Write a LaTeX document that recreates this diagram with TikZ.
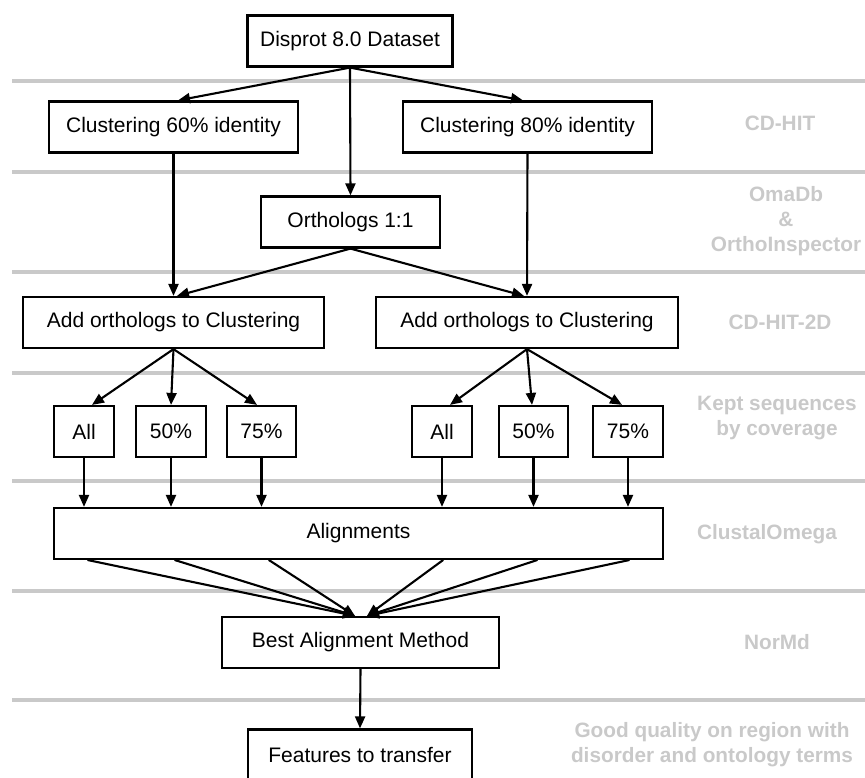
\documentclass[tikz,border=0pt]{standalone}
\usepackage{fontspec}
\setmainfont{Liberation Sans}
\usetikzlibrary{arrows.meta}

\begin{document}
\begin{tikzpicture}
		[x=1pt,y=-1pt,line cap=round,
		%Styles
		stagebox/.style={draw,line width=2.2pt,minimum height=51pt,inner sep=0pt,font=\fontsize{21}{25}\selectfont},
		tool label/.style={text=lanegray,font=\bfseries\fontsize{20.8}{25}\selectfont,align=center},
		lane line/.style={lanegray,line width=4.5pt,line cap=butt},
		flow/.style={line width=2.1pt,-{Triangle[length=12pt,width=10pt]}}
		]
		
		%Colors
		\colorlet{lanegray}{black!21}	%lane lines and tool names
		
		\useasboundingbox (0,0) rectangle (865,777);
		
		%Lanes
		\foreach \ly in {81,172,272,373,481,591,700}
			\draw[lane line] (12,\ly) -- (865,\ly);
		
		%The graphic
		\node[stagebox,minimum width=205pt] (disprot) at (350,41) {Disprot 8.0 Dataset};
		\node[stagebox,minimum width=249pt] (clu60) at (173.5,127) {Clustering 60\% identity};
		\node[stagebox,minimum width=249pt] (clu80) at (527.5,127) {Clustering 80\% identity};
		\node[stagebox,minimum width=179pt] (ortho) at (350.5,222) {Orthologs 1:1};
		\node[stagebox,minimum width=301pt] (add60) at (173.5,322.5) {Add orthologs to Clustering};
		\node[stagebox,minimum width=302pt] (add80) at (527,322.5) {Add orthologs to Clustering};
		
		\node[stagebox,minimum width=60pt] (all60) at (84,431.5) {All};
		\node[stagebox,minimum width=70pt] (half60) at (171,431.5) {50\%};
		\node[stagebox,minimum width=69pt] (most60) at (261.5,431.5) {75\%};
		\node[stagebox,minimum width=60pt] (all80) at (442,431.5) {All};
		\node[stagebox,minimum width=69pt] (half80) at (533.5,431.5) {50\%};
		\node[stagebox,minimum width=70pt] (most80) at (628,431.5) {75\%};
		
		\node[stagebox,minimum width=609pt] (align) at (358.5,533.5) {Alignments};
		\node[stagebox,minimum width=277pt] (best) at (360.5,642.5) {Best Alignment Method};
		\node[stagebox,minimum width=224pt] (feat) at (360,755) {Features to transfer};
		
		%Tools
		\node[tool label] (cdhit) at (780,123) {CD-HIT};
		\node[tool label] (oma) at (786,221) {OmaDb\\\&\\OrthoInspector};
		\node[tool label] (cdhit2d) at (780,322) {CD-HIT-2D};
		\node[tool label] (kept) at (777,418) {Kept sequences\\by coverage};
		\node[tool label] (clustal) at (767,534) {ClustalOmega};
		\node[tool label] (normd) at (777,642) {NorMd};
		\node[tool label] (quality) at (712,745) {Good quality on region with\\disorder and ontology terms};
		
		%Arrows
		\draw[flow] (disprot.south) -- ([xshift=4.5pt]clu60.north);
		\draw[flow] (disprot.south) -- ([xshift=-4.5pt]clu80.north);
		\draw[flow] (disprot.south) -- (ortho.north);
		\draw[flow] (clu60.south) -- (add60.north);
		\draw[flow] (clu80.south) -- (add80.north);
		\draw[flow] (ortho.south) -- ([xshift=3.5pt]add60.north);
		\draw[flow] (ortho.south) -- ([xshift=-3pt]add80.north);
		
		\draw[flow] (add60.south) -- ([xshift=8pt]all60.north);
		\draw[flow] (add60.south) -- (half60.north);
		\draw[flow] (add60.south) -- ([xshift=-4.5pt]most60.north);
		\draw[flow] (add80.south) -- ([xshift=8pt]all80.north);
		\draw[flow] (add80.south) -- ([xshift=-1.5pt]half80.north);
		\draw[flow] (add80.south) -- ([xshift=-6pt]most80.north);
		
		\foreach \sel in {all60,half60,most60,all80,half80,most80}
			\draw[flow] (\sel.south) -- (\sel.south |- align.north);
		
		\foreach \dx/\tx in {-270.5/-5.5,-183.5/-5.5,-89.5/-5.5,84.5/6.5,178.5/6.5,270.5/6.5}
			\draw[flow] ([xshift=\dx pt]align.south) -- ([xshift=\tx pt]best.north);
		
		\draw[flow] (best.south) -- (feat.north);
	\end{tikzpicture}
\end{document}
